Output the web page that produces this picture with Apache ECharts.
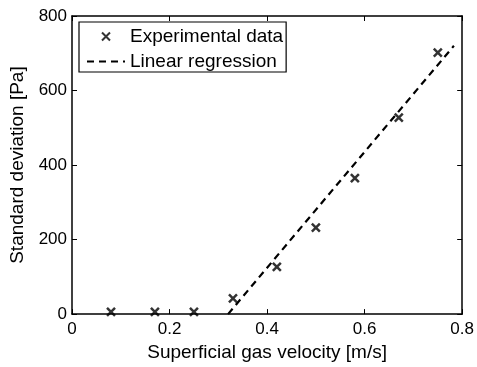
<!DOCTYPE html>
<html>
<head>
<meta charset="utf-8">
<script src="https://cdn.jsdelivr.net/npm/echarts@6/dist/echarts.min.js"></script>
<style>
html,body{margin:0;padding:0;background:#fff;}
#chart{width:477px;height:367px;}
</style>
</head>
<body>
<div id="chart"></div>
<script>
// Data
const velocity = [0.08, 0.17, 0.25, 0.33, 0.42, 0.50, 0.58, 0.67, 0.75];
const stdDev   = [6, 6, 6, 42, 127, 232, 365, 527, 702];
const regX = [0.32, 0.783];
const regY = [0, 720];
const xTicks = [0, 0.2, 0.4, 0.6, 0.8];
const yTicks = [0, 200, 400, 600, 800];
const seriesNames = ['Experimental data', 'Linear regression'];
const xName = 'Superficial gas velocity [m/s]';
const yName = 'Standard deviation [Pa]';

const FONT = 'Liberation Sans';
const scatterData = velocity.map((v, i) => [v, stdDev[i]]);
const lineData = regX.map((v, i) => [v, regY[i]]);
const X_PATH = 'path://M0,0L10,10M10,0L0,10';

const chart = echarts.init(document.getElementById('chart'));
const axisLine = {show: true, onZero: false, lineStyle: {color: '#000', width: 1.5}};
const axisTick = {show: true, inside: true, length: 5, lineStyle: {color: '#000', width: 1}};
const baseX = {
  type: 'value', min: xTicks[0], max: xTicks[xTicks.length - 1],
  interval: xTicks[1] - xTicks[0],
  splitLine: {show: false}, axisLine, axisTick
};
const baseY = {
  type: 'value', min: yTicks[0], max: yTicks[yTicks.length - 1],
  interval: yTicks[1] - yTicks[0],
  splitLine: {show: false}, axisLine, axisTick
};
chart.setOption({
  animation: false,
  backgroundColor: '#fff',
  textStyle: {fontFamily: FONT},
  grid: {left: 72, right: 12, top: 16, bottom: 46, containLabel: false},
  xAxis: [
    Object.assign({}, baseX, {
      position: 'bottom',
      name: xName, nameLocation: 'middle', nameGap: 28,
      nameTextStyle: {fontFamily: FONT, fontSize: 19, color: '#000'},
      axisLabel: {show: true, margin: 7, fontFamily: FONT, fontSize: 17, color: '#000',
        formatter: v => (v === 0 ? '0' : v.toFixed(1))}
    }),
    Object.assign({}, baseX, {position: 'top', axisLabel: {show: false}})
  ],
  yAxis: [
    Object.assign({}, baseY, {
      position: 'left',
      name: yName, nameLocation: 'middle', nameGap: 40, nameRotate: 90,
      nameTextStyle: {fontFamily: FONT, fontSize: 19, color: '#000'},
      axisLabel: {show: true, margin: 5, fontFamily: FONT, fontSize: 17, color: '#000'}
    }),
    Object.assign({}, baseY, {position: 'right', axisLabel: {show: false}})
  ],
  legend: {
    orient: 'vertical', left: 79, top: 22,
    padding: [5, 3, 1, 7], itemGap: 6,
    itemWidth: 38, itemHeight: 8,
    borderColor: '#000', borderWidth: 1.2, backgroundColor: '#fff',
    textStyle: {fontFamily: FONT, fontSize: 19, color: '#000', lineHeight: 19},
    data: [
      {name: seriesNames[0]},
      {name: seriesNames[1], itemStyle: {opacity: 0}}
    ]
  },
  series: [
    {
      name: seriesNames[0], type: 'scatter', data: scatterData,
      symbol: X_PATH, symbolSize: 8,
      itemStyle: {color: 'none', borderColor: '#000', borderWidth: 2.5},
      z: 3
    },
    {
      name: seriesNames[1], type: 'line', data: lineData,
      symbol: 'none', showSymbol: false,
      lineStyle: {color: '#000', width: 2.2, type: [7, 5]},
      itemStyle: {color: '#000'},
      z: 2
    }
  ]
});
</script>
</body>
</html>
